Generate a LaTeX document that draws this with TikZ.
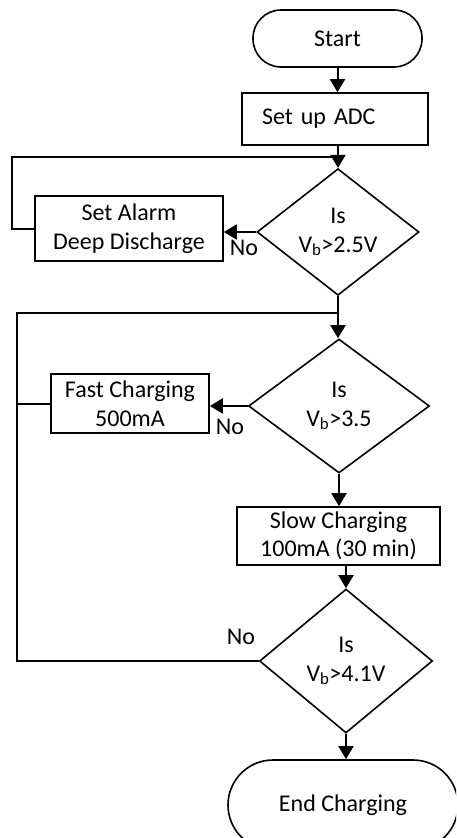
\documentclass[tikz,border=0pt]{standalone}
\usepackage{fontspec}
\setmainfont{Carlito}
\usetikzlibrary{shapes.geometric,arrows.meta}
\begin{document}
\begin{tikzpicture}[x=1pt,y=-1pt,
  every node/.style={font=\fontsize{24}{28.5}\selectfont},
  box/.style={draw,line width=1.6pt,rectangle,inner sep=0pt,align=center},
  term/.style={draw,line width=1.6pt,rectangle,inner sep=0pt,align=center},
  dec/.style={draw,line width=1.6pt,diamond,inner sep=0pt,align=center},
  conn/.style={line width=2pt},
  arr/.style={line width=2pt,-{Triangle[length=13pt,width=15pt]}},
  lbl/.style={inner sep=0pt}
]
\useasboundingbox (0,0) rectangle (456,838);
\clip (0,0) rectangle (456,838);
% nodes
\node[term,rounded corners=28pt,minimum width=169pt,minimum height=57pt] (start) at (337.5,38.5) {Start};
\node[box,minimum width=186pt,minimum height=52pt,text width=146pt,align=left,inner xsep=20pt] (adc) at (335,119) {Set up ADC};
\node[dec,minimum width=162pt,minimum height=119pt] (d1) at (338,232) {Is\\V\textsubscript{b}>2.5V};
\node[box,minimum width=188pt,minimum height=65pt] (alarm) at (129,228.5) {Set Alarm\\Deep Discharge};
\node[dec,minimum width=181pt,minimum height=134pt] (d2) at (339,406) {Is\\V\textsubscript{b}>3.5};
\node[box,minimum width=158pt,minimum height=59pt] (fast) at (130,403.5) {Fast Charging\\500mA};
\node[box,minimum width=203pt,minimum height=58pt] (slow) at (338.5,536) {Slow Charging\\100mA (30 min)};
\node[dec,minimum width=173pt,minimum height=144pt] (d3) at (346,661) {Is\\V\textsubscript{b}>4.1V};
\node[term,rounded corners=45pt,minimum width=230pt,minimum height=90pt] (end) at (343,805) {End Charging};
% labels
\node[lbl] (no1) at (244,248) {No};
\node[lbl] (no2) at (230,427) {No};
\node[lbl] (no3) at (241,637) {No};
% junctions
\coordinate (j1) at (338,157);
\coordinate (c1) at (12,157);
\coordinate (j2) at (339,313);
\coordinate (c2) at (17,313);
% connectors
\draw[arr] (start.south) -- (start.south |- adc.north);
\draw[arr] (adc.south -| d1.north) -- (d1.north);
\draw[arr] (d1.west) -- (d1.west -| alarm.east);
\draw[conn] (alarm.west) -- (alarm.west -| c1) -- (c1) -- (j1);
\draw[arr] (d1.south) -- (d1.south |- d2.north);
\draw[arr] (d2.west) -- (d2.west -| fast.east);
\draw[conn] (fast.west) -- (fast.west -| c2);
\draw[conn] (d3.west) -- (d3.west -| c2) -- (c2) -- (j2);
\draw[arr] (d2.south) -- (d2.south |- slow.north);
\draw[arr] (slow.south -| d3.north) -- (d3.north);
\draw[arr] (d3.south) -- (d3.south |- end.north);
\end{tikzpicture}
\end{document}
